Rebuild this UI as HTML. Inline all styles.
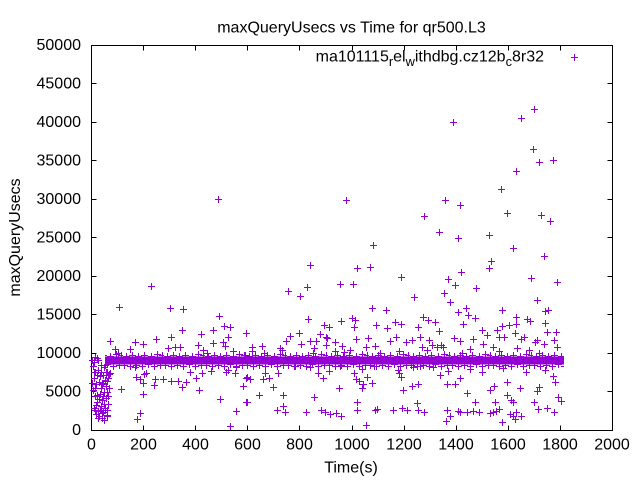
<!DOCTYPE html>
<html>
<head>
<meta charset="utf-8">
<style>
html,body{margin:0;padding:0;background:#fff}
svg{display:block}
text{font-family:"Liberation Sans",sans-serif;font-size:16px;fill:#000}
</style>
</head>
<body>
<svg width="640" height="480" viewBox="0 0 640 480" xmlns="http://www.w3.org/2000/svg">
<defs>
<path id="p" d="M-3 0.5h7M0.5-3v7" stroke="#9400d3" stroke-width="1" fill="none"/>
<pattern id="band" patternUnits="userSpaceOnUse" x="0" y="350" width="41" height="20">
<rect x="0" y="6.5" width="41" height="8" fill="#9400d3"/>
<path stroke="#9400d3" stroke-width="1" fill="none" d="
M0 6.5h7M3.5 3v7 M6 5.5h7M9.5 2v7 M12 6.5h7M15.5 3v7 M18 5.5h7M21.5 2v7 M25 6.5h7M28.5 3v7 M31 4.5h7M34.5 1v7 M36 5.5h7M39.5 2v7
M-2 15.5h7M1.5 12v7 M4 16.5h7M7.5 13v7 M10 15.5h7M13.5 12v7 M16 16.5h7M19.5 13v7 M22 14.5h7M25.5 11v7 M28 16.5h7M31.5 13v7 M34 15.5h7M37.5 12v7"/>
</pattern>
</defs>

<!-- title -->
<text x="351.5" y="32.7" text-anchor="middle">maxQueryUsecs vs Time for qr500.L3</text>

<!-- frame -->
<rect x="91.5" y="45.5" width="521" height="385" fill="none" stroke="#000" stroke-width="1"/>
<path stroke="#000" stroke-width="1" fill="none" d="
M91.5 391.5h5M91.5 353.5h5M91.5 314.5h5M91.5 276.5h5M91.5 237.5h5M91.5 199.5h5M91.5 160.5h5M91.5 122.5h5M91.5 83.5h5
M612.5 391.5h-5M612.5 353.5h-5M612.5 314.5h-5M612.5 276.5h-5M612.5 237.5h-5M612.5 199.5h-5M612.5 160.5h-5M612.5 122.5h-5M612.5 83.5h-5
M143.5 430.5v-5M195.5 430.5v-5M247.5 430.5v-5M299.5 430.5v-5M352.5 430.5v-5M404.5 430.5v-5M456.5 430.5v-5M508.5 430.5v-5M560.5 430.5v-5
M143.5 45.5v5M195.5 45.5v5M247.5 45.5v5M299.5 45.5v5M352.5 45.5v5M404.5 45.5v5M456.5 45.5v5M508.5 45.5v5M560.5 45.5v5"/>

<!-- y tick labels -->
<g text-anchor="end">
<text x="81" y="435">0</text>
<text x="81" y="396.5">5000</text>
<text x="81" y="358">10000</text>
<text x="81" y="319.5">15000</text>
<text x="81" y="281">20000</text>
<text x="81" y="242.5">25000</text>
<text x="81" y="204">30000</text>
<text x="81" y="165.5">35000</text>
<text x="81" y="127">40000</text>
<text x="81" y="88.5">45000</text>
<text x="81" y="50">50000</text>
</g>

<!-- x tick labels -->
<g text-anchor="middle">
<text x="91.5" y="449.5">0</text>
<text x="143.5" y="449.5">200</text>
<text x="195.5" y="449.5">400</text>
<text x="247.5" y="449.5">600</text>
<text x="299.5" y="449.5">800</text>
<text x="352" y="449.5">1000</text>
<text x="404" y="449.5">1200</text>
<text x="456" y="449.5">1400</text>
<text x="508" y="449.5">1600</text>
<text x="560" y="449.5">1800</text>
<text x="612" y="449.5">2000</text>
</g>

<!-- axis labels -->
<text x="351" y="472.7" text-anchor="middle">Time(s)</text>
<text transform="translate(20,237.5) rotate(-90)" text-anchor="middle">maxQueryUsecs</text>

<!-- key -->
<text x="544" y="61.7" text-anchor="end">ma101115<tspan dy="4.3" font-size="12.8">r</tspan><tspan dy="-4.3">el</tspan><tspan dy="4.3" font-size="12.8">w</tspan><tspan dy="-4.3">ithdbg.cz12b</tspan><tspan dy="4.3" font-size="12.8">c</tspan><tspan dy="-4.3">8r32</tspan></text>
<use href="#p" x="574" y="57"/>

<!-- dense band -->
<rect x="105" y="350" width="459" height="20" fill="url(#band)"/>

<!-- points -->
<g>
<use href="#p" x="453" y="122"/><use href="#p" x="534" y="109"/><use href="#p" x="521" y="118"/><use href="#p" x="533" y="149"/>
<use href="#p" x="539" y="162"/><use href="#p" x="553" y="160"/><use href="#p" x="516" y="171"/><use href="#p" x="501" y="189"/>
<use href="#p" x="445" y="200"/><use href="#p" x="460" y="205"/><use href="#p" x="507" y="213"/><use href="#p" x="541" y="215"/>
<use href="#p" x="550" y="221"/><use href="#p" x="439" y="232"/><use href="#p" x="458" y="238"/><use href="#p" x="489" y="235"/>
<use href="#p" x="513" y="248"/><use href="#p" x="544" y="256"/><use href="#p" x="491" y="261"/><use href="#p" x="489" y="268"/>
<use href="#p" x="461" y="272"/><use href="#p" x="448" y="279"/><use href="#p" x="455" y="285"/><use href="#p" x="531" y="278"/>
<use href="#p" x="557" y="282"/><use href="#p" x="476" y="288"/><use href="#p" x="444" y="293"/><use href="#p" x="450" y="302"/>
<use href="#p" x="537" y="300"/><use href="#p" x="502" y="310"/><use href="#p" x="466" y="308"/><use href="#p" x="458" y="312"/>
<use href="#p" x="468" y="315"/><use href="#p" x="475" y="318"/><use href="#p" x="545" y="311"/><use href="#p" x="548" y="310"/>
<use href="#p" x="516" y="317"/><use href="#p" x="527" y="319"/><use href="#p" x="530" y="321"/><use href="#p" x="545" y="323"/>
<use href="#p" x="463" y="324"/><use href="#p" x="502" y="326"/><use href="#p" x="509" y="325"/><use href="#p" x="516" y="324"/>
<use href="#p" x="482" y="330"/><use href="#p" x="497" y="330"/><use href="#p" x="547" y="332"/><use href="#p" x="556" y="332"/>
<use href="#p" x="515" y="333"/><use href="#p" x="487" y="335"/><use href="#p" x="499" y="337"/><use href="#p" x="504" y="337"/>
<use href="#p" x="454" y="338"/><use href="#p" x="460" y="341"/><use href="#p" x="473" y="339"/><use href="#p" x="521" y="339"/>
<use href="#p" x="524" y="337"/><use href="#p" x="537" y="340"/><use href="#p" x="554" y="340"/><use href="#p" x="535" y="342"/>
<use href="#p" x="483" y="344"/><use href="#p" x="493" y="347"/><use href="#p" x="517" y="348"/><use href="#p" x="544" y="344"/>
<use href="#p" x="557" y="347"/><use href="#p" x="441" y="345"/><use href="#p" x="443" y="347"/><use href="#p" x="470" y="349"/>
<use href="#p" x="462" y="353"/><use href="#p" x="499" y="351"/><use href="#p" x="529" y="350"/><use href="#p" x="539" y="353"/>
<use href="#p" x="424" y="216"/>

<use href="#p" x="119" y="307"/><use href="#p" x="151" y="286"/><use href="#p" x="218" y="199"/><use href="#p" x="346" y="200"/>
<use href="#p" x="310" y="265"/><use href="#p" x="373" y="245"/><use href="#p" x="357" y="268"/><use href="#p" x="370" y="267"/>
<use href="#p" x="340" y="284"/><use href="#p" x="353" y="284"/><use href="#p" x="401" y="277"/><use href="#p" x="288" y="291"/>
<use href="#p" x="300" y="296"/><use href="#p" x="307" y="287"/><use href="#p" x="414" y="297"/><use href="#p" x="372" y="308"/>
<use href="#p" x="386" y="310"/><use href="#p" x="308" y="319"/><use href="#p" x="341" y="321"/><use href="#p" x="352" y="318"/>
<use href="#p" x="355" y="320"/><use href="#p" x="324" y="325"/><use href="#p" x="329" y="327"/><use href="#p" x="354" y="327"/>
<use href="#p" x="376" y="325"/><use href="#p" x="387" y="328"/><use href="#p" x="395" y="322"/><use href="#p" x="401" y="324"/>
<use href="#p" x="418" y="327"/><use href="#p" x="423" y="317"/><use href="#p" x="428" y="320"/><use href="#p" x="435" y="322"/>
<use href="#p" x="439" y="331"/><use href="#p" x="246" y="333"/><use href="#p" x="290" y="336"/><use href="#p" x="299" y="333"/>
<use href="#p" x="320" y="334"/><use href="#p" x="326" y="337"/><use href="#p" x="327" y="338"/><use href="#p" x="286" y="341"/>
<use href="#p" x="310" y="341"/><use href="#p" x="316" y="341"/><use href="#p" x="335" y="342"/><use href="#p" x="356" y="339"/>
<use href="#p" x="368" y="338"/><use href="#p" x="390" y="341"/><use href="#p" x="396" y="337"/><use href="#p" x="406" y="342"/>
<use href="#p" x="412" y="340"/><use href="#p" x="420" y="337"/><use href="#p" x="429" y="340"/><use href="#p" x="252" y="347"/>
<use href="#p" x="262" y="346"/><use href="#p" x="280" y="348"/><use href="#p" x="301" y="344"/><use href="#p" x="314" y="348"/>
<use href="#p" x="326" y="345"/><use href="#p" x="342" y="346"/><use href="#p" x="350" y="350"/><use href="#p" x="366" y="347"/>
<use href="#p" x="375" y="346"/><use href="#p" x="399" y="351"/><use href="#p" x="422" y="347"/><use href="#p" x="432" y="345"/>
<use href="#p" x="437" y="347"/><use href="#p" x="252" y="351"/><use href="#p" x="264" y="353"/><use href="#p" x="282" y="350"/>
<use href="#p" x="313" y="353"/><use href="#p" x="335" y="351"/><use href="#p" x="344" y="352"/><use href="#p" x="380" y="353"/>
<use href="#p" x="427" y="350"/>

<use href="#p" x="110" y="341"/><use href="#p" x="115" y="349"/><use href="#p" x="118" y="353"/><use href="#p" x="130" y="349"/>
<use href="#p" x="135" y="342"/><use href="#p" x="143" y="344"/><use href="#p" x="156" y="339"/><use href="#p" x="171" y="337"/>
<use href="#p" x="168" y="348"/><use href="#p" x="175" y="347"/><use href="#p" x="180" y="347"/><use href="#p" x="201" y="334"/>
<use href="#p" x="198" y="345"/><use href="#p" x="203" y="350"/><use href="#p" x="213" y="343"/><use href="#p" x="223" y="342"/>
<use href="#p" x="225" y="346"/><use href="#p" x="233" y="351"/><use href="#p" x="207" y="353"/><use href="#p" x="245" y="355"/>
<use href="#p" x="170" y="308"/><use href="#p" x="183" y="309"/><use href="#p" x="182" y="330"/><use href="#p" x="213" y="330"/>
<use href="#p" x="219" y="316"/><use href="#p" x="224" y="326"/><use href="#p" x="230" y="327"/><use href="#p" x="228" y="337"/>

<use href="#p" x="105" y="365"/><use href="#p" x="101" y="372"/><use href="#p" x="106" y="375"/><use href="#p" x="109" y="374"/>
<use href="#p" x="135" y="367"/><use href="#p" x="146" y="373"/><use href="#p" x="144" y="374"/><use href="#p" x="136" y="377"/>
<use href="#p" x="140" y="379"/><use href="#p" x="143" y="383"/><use href="#p" x="155" y="379"/><use href="#p" x="163" y="379"/>
<use href="#p" x="171" y="381"/><use href="#p" x="178" y="381"/><use href="#p" x="154" y="385"/><use href="#p" x="143" y="394"/>
<use href="#p" x="121" y="389"/><use href="#p" x="182" y="387"/><use href="#p" x="186" y="382"/><use href="#p" x="190" y="372"/>
<use href="#p" x="196" y="378"/><use href="#p" x="199" y="390"/><use href="#p" x="202" y="373"/><use href="#p" x="211" y="371"/>
<use href="#p" x="226" y="372"/><use href="#p" x="228" y="370"/><use href="#p" x="235" y="373"/><use href="#p" x="236" y="367"/>
<use href="#p" x="243" y="386"/><use href="#p" x="246" y="378"/><use href="#p" x="220" y="399"/><use href="#p" x="246" y="402"/>
<use href="#p" x="236" y="411"/><use href="#p" x="140" y="413"/><use href="#p" x="137" y="419"/><use href="#p" x="230" y="426"/>

<use href="#p" x="295" y="366"/><use href="#p" x="310" y="367"/><use href="#p" x="340" y="366"/><use href="#p" x="374" y="366"/>
<use href="#p" x="413" y="367"/><use href="#p" x="420" y="366"/><use href="#p" x="433" y="367"/><use href="#p" x="265" y="373"/>
<use href="#p" x="278" y="373"/><use href="#p" x="318" y="373"/><use href="#p" x="329" y="371"/><use href="#p" x="354" y="373"/>
<use href="#p" x="362" y="369"/><use href="#p" x="398" y="370"/><use href="#p" x="399" y="373"/><use href="#p" x="247" y="377"/>
<use href="#p" x="250" y="379"/><use href="#p" x="263" y="379"/><use href="#p" x="269" y="378"/><use href="#p" x="323" y="378"/>
<use href="#p" x="356" y="379"/><use href="#p" x="359" y="381"/><use href="#p" x="367" y="377"/><use href="#p" x="401" y="377"/>
<use href="#p" x="243" y="386"/><use href="#p" x="273" y="387"/><use href="#p" x="339" y="388"/><use href="#p" x="363" y="384"/>
<use href="#p" x="372" y="383"/><use href="#p" x="412" y="386"/><use href="#p" x="418" y="384"/><use href="#p" x="362" y="388"/>
<use href="#p" x="259" y="395"/><use href="#p" x="283" y="395"/><use href="#p" x="314" y="397"/><use href="#p" x="403" y="390"/>
<use href="#p" x="247" y="402"/><use href="#p" x="283" y="406"/><use href="#p" x="357" y="402"/><use href="#p" x="417" y="403"/>
<use href="#p" x="277" y="410"/><use href="#p" x="285" y="412"/><use href="#p" x="306" y="412"/><use href="#p" x="321" y="410"/>
<use href="#p" x="325" y="412"/><use href="#p" x="330" y="414"/><use href="#p" x="336" y="413"/><use href="#p" x="341" y="416"/>
<use href="#p" x="357" y="410"/><use href="#p" x="375" y="410"/><use href="#p" x="377" y="409"/><use href="#p" x="393" y="410"/>
<use href="#p" x="402" y="408"/><use href="#p" x="407" y="410"/><use href="#p" x="418" y="410"/><use href="#p" x="424" y="412"/>
<use href="#p" x="366" y="425"/>

<use href="#p" x="447" y="384"/><use href="#p" x="455" y="384"/><use href="#p" x="467" y="393"/><use href="#p" x="475" y="402"/>
<use href="#p" x="490" y="390"/><use href="#p" x="494" y="386"/><use href="#p" x="507" y="382"/><use href="#p" x="520" y="388"/>
<use href="#p" x="537" y="391"/><use href="#p" x="539" y="387"/><use href="#p" x="555" y="382"/><use href="#p" x="507" y="395"/>
<use href="#p" x="511" y="400"/><use href="#p" x="513" y="402"/><use href="#p" x="495" y="402"/><use href="#p" x="534" y="402"/>
<use href="#p" x="558" y="397"/><use href="#p" x="561" y="401"/><use href="#p" x="447" y="410"/><use href="#p" x="450" y="416"/>
<use href="#p" x="446" y="421"/><use href="#p" x="458" y="411"/><use href="#p" x="460" y="412"/><use href="#p" x="467" y="412"/>
<use href="#p" x="473" y="411"/><use href="#p" x="479" y="412"/><use href="#p" x="490" y="413"/><use href="#p" x="493" y="412"/>
<use href="#p" x="496" y="411"/><use href="#p" x="499" y="409"/><use href="#p" x="510" y="414"/><use href="#p" x="513" y="416"/>
<use href="#p" x="516" y="412"/><use href="#p" x="521" y="416"/><use href="#p" x="502" y="422"/><use href="#p" x="515" y="419"/>
<use href="#p" x="538" y="409"/><use href="#p" x="547" y="408"/><use href="#p" x="554" y="412"/>
<use href="#p" x="448" y="371"/><use href="#p" x="470" y="369"/><use href="#p" x="482" y="372"/><use href="#p" x="503" y="368"/>
<use href="#p" x="526" y="372"/><use href="#p" x="545" y="370"/><use href="#p" x="553" y="376"/><use href="#p" x="440" y="375"/>
<use href="#p" x="460" y="378"/>

<!-- left cluster -->
<use href="#p" x="93" y="366"/><use href="#p" x="95" y="372"/><use href="#p" x="94" y="378"/><use href="#p" x="96" y="384"/>
<use href="#p" x="93" y="390"/><use href="#p" x="95" y="396"/><use href="#p" x="97" y="402"/><use href="#p" x="94" y="408"/>
<use href="#p" x="98" y="370"/><use href="#p" x="100" y="376"/><use href="#p" x="99" y="382"/><use href="#p" x="101" y="388"/>
<use href="#p" x="100" y="394"/><use href="#p" x="102" y="400"/><use href="#p" x="101" y="406"/><use href="#p" x="103" y="412"/>
<use href="#p" x="99" y="416"/><use href="#p" x="104" y="420"/><use href="#p" x="96" y="414"/><use href="#p" x="105" y="380"/>
<use href="#p" x="106" y="386"/><use href="#p" x="104" y="392"/><use href="#p" x="106" y="398"/><use href="#p" x="108" y="404"/>
<use href="#p" x="107" y="410"/><use href="#p" x="108" y="396"/><use href="#p" x="109" y="388"/><use href="#p" x="103" y="375"/>
<use href="#p" x="98" y="360"/><use href="#p" x="101" y="365"/><use href="#p" x="106" y="372"/><use href="#p" x="108" y="378"/>
<use href="#p" x="97" y="395"/><use href="#p" x="102" y="384"/><use href="#p" x="105" y="408"/><use href="#p" x="100" y="410"/>
<use href="#p" x="96" y="405"/><use href="#p" x="104" y="404"/><use href="#p" x="107" y="392"/><use href="#p" x="99" y="399"/>
<use href="#p" x="103" y="396"/><use href="#p" x="95" y="388"/><use href="#p" x="92" y="383"/><use href="#p" x="94" y="362"/>
<use href="#p" x="97" y="358"/><use href="#p" x="107" y="416"/><use href="#p" x="102" y="418"/><use href="#p" x="98" y="411"/>
<use href="#p" x="104" y="367"/><use href="#p" x="109" y="374"/><use href="#p" x="92" y="360"/><use href="#p" x="95" y="357"/>
<use href="#p" x="97" y="375"/><use href="#p" x="94" y="372"/><use href="#p" x="107" y="372"/><use href="#p" x="110" y="373"/>
<use href="#p" x="103" y="383"/><use href="#p" x="107" y="381"/><use href="#p" x="95" y="410"/><use href="#p" x="107" y="410"/>
<use href="#p" x="98" y="418"/><use href="#p" x="107" y="415"/><use href="#p" x="102" y="413"/>
</g>
</svg>
</body>
</html>
